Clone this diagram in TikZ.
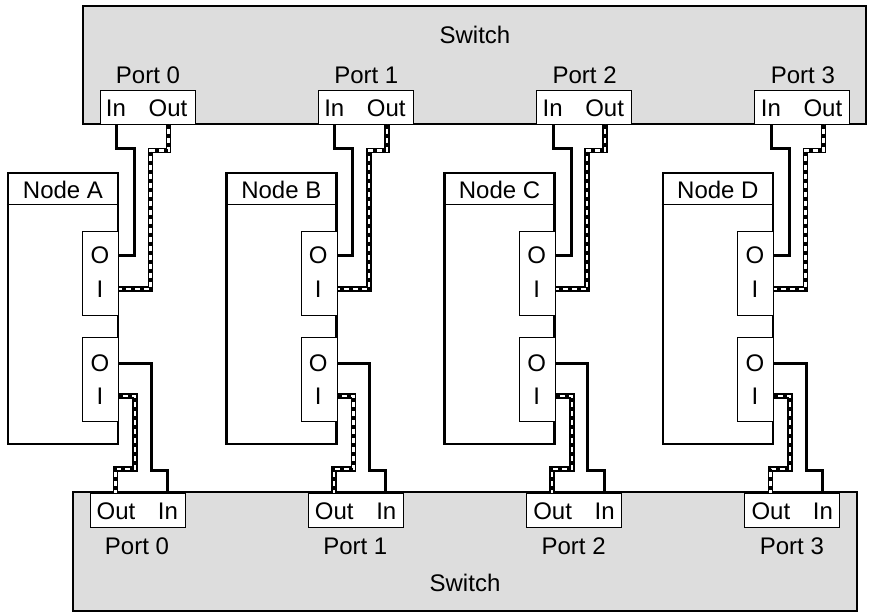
\documentclass[tikz,border=0pt]{standalone}
\usepackage{fontspec}
\setmainfont{Liberation Sans}
\usetikzlibrary{positioning,calc}
\definecolor{switchgray}{HTML}{DDDDDD}
\tikzset{
  switchbox/.style={
    draw=black,
    fill=switchgray,
    line width=2.2pt,
    inner sep=0pt
  },
  portbox/.style={
    draw=black,
    fill=white,
    line width=1pt,
    minimum width=95pt,
    minimum height=34pt,
    inner sep=0pt
  },
  hostbox/.style={
    draw=black,
    fill=white,
    line width=2.4pt,
    minimum width=110pt,
    minimum height=271pt,
    inner sep=0pt
  },
  adapterbox/.style={
    draw=black,
    fill=white,
    line width=1pt,
    minimum width=36pt,
    minimum height=84pt,
    inner sep=0pt
  },
  lbl/.style={
    inner sep=0pt,
    font=\fontsize{24}{26}\selectfont
  },
  ctrlwire/.style={
    draw=black,
    line width=3pt
  },
  datacable/.style={
    draw=white,
    line width=2.4pt,
    preaction={draw=black, line width=5.6pt},
    postaction={draw=black, line width=2.4pt, dash pattern=on 4pt off 5pt}
  }
}

\begin{document}
\begin{tikzpicture}[x=1pt,y=-1pt]
\useasboundingbox (0,0) rectangle (869,614);
% the two switches
\node[switchbox, minimum width=783pt, minimum height=118pt] (swtop) at (474.5,65) {};
\node[lbl] (swtoplbl) at (475,35) {Switch};
\node[switchbox, minimum width=784pt, minimum height=119pt] (swbot) at (465,551.5) {};
\node[lbl] (swbotlbl) at (465,583) {Switch};

\foreach \i/\n in {0/A,1/B,2/C,3/D} {
  \pgfmathsetmacro{\dx}{218.3*\i}
  % ports on the upper switch
  \node[portbox] (ptop\i) at (147.5+\dx,107) {};
  \node[lbl] (ptoplbl\i) at (148+\dx,75) {Port \i};
  \node[lbl] (tin\i) at (116+\dx,108) {In};
  \node[lbl] (tout\i) at (168+\dx,108) {Out};
  % ports on the lower switch
  \node[portbox] (pbot\i) at (137.5+\dx,510) {};
  \node[lbl] (pbotlbl\i) at (137+\dx,546) {Port \i};
  \node[lbl] (bout\i) at (116+\dx,511) {Out};
  \node[lbl] (bin\i) at (168+\dx,511) {In};
  % host with two adapters
  \node[hostbox] (host\i) at (63+\dx,308.5) {};
  \draw[line width=1.2pt] (host\i.north west) ++(0,33) -- ++(110,0);
  \node[lbl] (hostlbl\i) at (63+\dx,190) {Node \n};
  \node[adapterbox, anchor=north east] (adpu\i) at (host\i.east |- 0,231) {};
  \node[lbl] (uo\i) at (100+\dx,255) {O};
  \node[lbl] (ui\i) at (100+\dx,289) {I};
  \node[adapterbox, anchor=north east] (adpl\i) at (host\i.east |- 0,337) {};
  \node[lbl] (lo\i) at (100+\dx,363) {O};
  \node[lbl] (li\i) at (100+\dx,396) {I};
  % links to the upper switch
  \draw[ctrlwire] ([xshift=17pt]ptop\i.south west) |- ++(18,24) |- (adpu\i.east |- uo\i);
  \draw[datacable] ([xshift=-27pt]ptop\i.south east) |- ++(-18,26) |- (adpu\i.east |- ui\i);
  % links to the lower switch
  \draw[ctrlwire] (adpl\i.east |- lo\i) -| ++(32,107) -| ([xshift=-18pt]pbot\i.north east);
  \draw[datacable] (adpl\i.east |- li\i) -| ++(16,73) -| ([xshift=26pt]pbot\i.north west);
}
\end{tikzpicture}
\end{document}
